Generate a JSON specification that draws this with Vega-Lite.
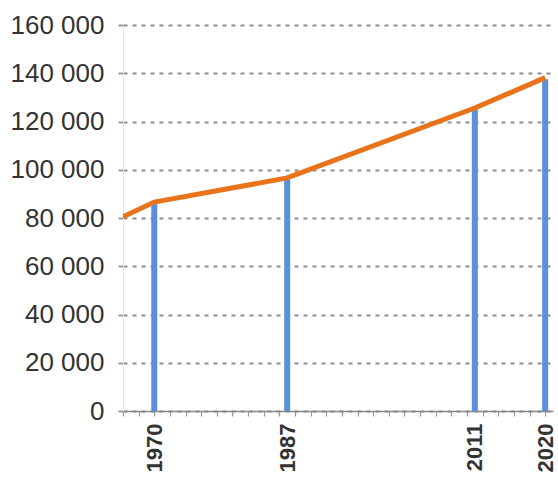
{
  "$schema": "https://vega.github.io/schema/vega-lite/v6.json",
  "width": 430,
  "height": 386,
  "autosize": {"type": "none"},
  "padding": {"left": 123, "top": 25, "right": 5, "bottom": 76},
  "background": "white",
  "config": {"view": {"stroke": null}, "font": "Liberation Sans"},
  "datasets": {
    "census": [
      {"year": 1970, "population": 86000},
      {"year": 1987, "population": 96000},
      {"year": 2011, "population": 125000},
      {"year": 2020, "population": 137500}
    ],
    "trend": [
      {"year": 1966, "population": 80500},
      {"year": 1970, "population": 86600},
      {"year": 1987, "population": 96600},
      {"year": 2011, "population": 125600},
      {"year": 2020, "population": 138200}
    ]
  },
  "encoding": {
    "x": {
      "field": "year",
      "type": "quantitative",
      "scale": {"domain": [1966, 2021], "nice": false, "zero": false},
      "axis": {
        "title": null,
        "grid": false,
        "values": [1966, 1968, 1970, 1972, 1974, 1976, 1978, 1980, 1982, 1984, 1986, 1987, 1988, 1990, 1992, 1994, 1996, 1998, 2000, 2002, 2004, 2006, 2008, 2010, 2011, 2012, 2014, 2016, 2018, 2020],
        "labelExpr": "indexof([1970, 1987, 2011, 2020], datum.value) >= 0 ? '' + datum.value : ''",
        "labelAngle": -90,
        "labelFontSize": 22,
        "labelFontWeight": "bold",
        "labelColor": "#333333",
        "labelPadding": 7,
        "labelOverlap": false,
        "labelBound": false,
        "labelFlush": false,
        "tickSize": 5,
        "tickColor": "#999999",
        "tickWidth": 1.2,
        "tickOpacity": {"condition": {"test": "datum.value == 1987 || datum.value == 2011", "value": 0}, "value": 1},
        "domainColor": "#888888",
        "domainWidth": 1.5
      }
    },
    "y": {
      "field": "population",
      "type": "quantitative",
      "scale": {"domain": [0, 160000], "nice": false},
      "axis": {
        "title": null,
        "values": [0, 20000, 40000, 60000, 80000, 100000, 120000, 140000, 160000],
        "labelExpr": "replace(format(datum.value, ','), ',', ' ')",
        "labelFontSize": 26,
        "labelColor": "#333333",
        "labelPadding": 14,
        "tickSize": 5,
        "tickColor": "#999999",
        "tickWidth": 2,
        "domainColor": "#e6e6e6",
        "grid": true,
        "gridColor": "#8c8c8c",
        "gridDash": [4, 5],
        "gridWidth": 2
      }
    }
  },
  "layer": [
    {
      "data": {"name": "census"},
      "mark": {"type": "rule", "color": "#5b8fd9", "strokeWidth": 6},
      "encoding": {
        "y2": {"datum": 0}
      }
    },
    {
      "data": {"name": "trend"},
      "mark": {"type": "line", "color": "#e8731a", "strokeWidth": 5, "interpolate": "linear", "clip": true}
    }
  ]
}
